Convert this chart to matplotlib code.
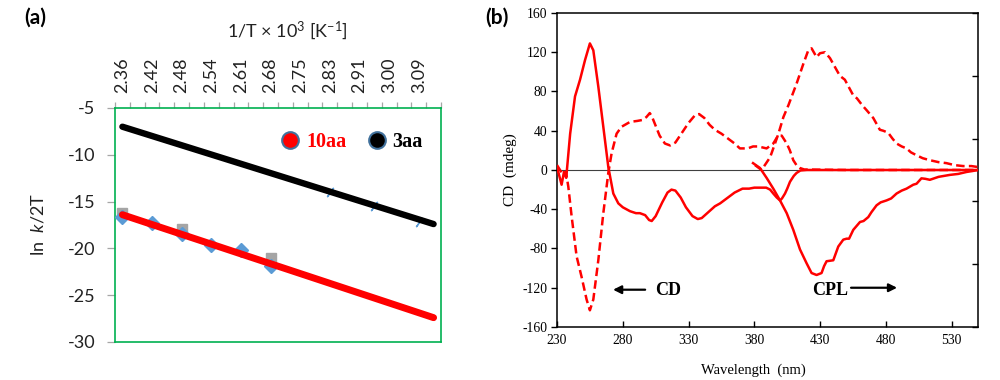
import matplotlib
matplotlib.use("Agg")
import matplotlib.pyplot as plt
from matplotlib.lines import Line2D
import numpy as np

plt.rcParams['axes.unicode_minus'] = False
plt.rcParams['mathtext.fontset'] = 'custom'
plt.rcParams['mathtext.rm'] = 'Lato'
plt.rcParams['mathtext.it'] = 'Lato:italic'

# ---------------- Panel (a) data ----------------
top_labels = ["2.36", "2.42", "2.48", "2.54", "2.61", "2.68",
              "2.75", "2.83", "2.91", "3.00", "3.09"]
n_categories = 22
diamond_cat = [0, 2, 4, 6, 8, 10]
diamond_val = [-16.6, -17.3, -18.5, -19.6, -20.2, -21.9]
square_cat = [0, 4, 10]
square_val = [-16.2, -17.9, -21.0]
slash_cat = [14, 17, 20]
slash_val = [-14.0, -15.5, -17.2]
fit_cat = [0, 21]
fit_3aa = [-7.0, -17.4]
fit_10aa = [-16.4, -27.4]

# ---------------- Panel (b) data ----------------
cd_solid_wl = [230, 233.5, 235.3, 237, 240, 243.7, 247.5, 251.3, 255, 257.6, 261.4,
               265.2, 269, 272.8, 276.6, 280, 285.5, 290, 293, 297, 300, 302, 305,
               310, 314, 317, 320, 324, 328, 333, 337, 340, 345, 350, 354, 360, 365,
               371, 376, 380, 385, 389, 392, 394.4, 397, 399.5, 401, 403.3, 405,
               407.1, 410, 412.1, 415, 420, 450, 500, 550]
cd_solid_val = [3, -15, -2, -8, 37, 75, 92, 112, 129, 122, 85,
                44, 3, -24, -34, -38, -42, -44, -44, -46, -51, -52, -47,
                -33, -23, -20, -21, -28, -38, -47, -50, -49, -43, -37, -34, -28, -23,
                -19, -19, -18, -18, -18, -20, -24, -28, -31, -29, -24, -19,
                -12, -6, -3, -0.5, 0, 0, 0, 0]

cd_dash_wl = [230, 232.3, 234.8, 236.8, 238.6, 241.1, 244.9, 248.7, 252.5, 255,
              257.6, 261.4, 265.2, 269, 271.5, 275.3, 279, 282.9, 285.5, 291, 295,
              298, 300.5, 302, 305, 308, 312, 316, 320, 325, 330, 335, 338, 342,
              346, 350, 355, 360, 365, 369, 375, 379, 383, 389.3, 394.4, 398,
              400.8, 404.6, 407, 409.6, 412, 414.7, 418, 450, 500, 550]
cd_dash_val = [5, 0, -5, -2, -17, -47, -88, -109, -132, -143,
               -132, -92, -44, -3, 17, 37, 44, 47, 49, 50, 51,
               54, 58, 55, 45, 35, 27, 25, 28, 38, 48, 56, 57, 53,
               46, 41, 37, 32, 27, 22, 22, 24, 24, 22, 27, 35,
               35, 27, 20, 10, 5, 2, 0.5, 0, 0, 0]

cpl_dash_wl = [380.5, 385.5, 392, 395.7, 398.3, 402.1, 405.9, 409, 412.1, 417.2,
               421, 423.5, 427.3, 429.9, 433.7, 437.5, 442.5, 445, 448.8, 452,
               455.2, 458, 462, 465.3, 470.4, 475.4, 478, 481.7, 485, 488.1, 492,
               495.7, 499, 503.3, 508, 513.4, 520, 526, 532, 538.7, 545, 550]
cpl_dash_val = [5, 0, 13, 27, 37, 54, 66, 77, 88, 108,
                122, 124, 115, 119, 120, 114, 102, 96, 92, 84,
                76, 73, 66, 61, 53, 41, 40, 38, 32, 27, 24,
                22, 18, 15, 12, 10, 8, 7, 5, 4, 4, 3]

cpl_solid_wl = [379, 384.3, 389.3, 394.4, 399.5, 404.6, 409.6, 414.7, 419.7, 423.5,
                427.3, 431.1, 433, 434.9, 440, 443.8, 447.6, 450.1, 452, 455.2,
                460.3, 463, 466.6, 469, 472.9, 476, 480.5, 484, 488.1, 492,
                495.7, 500.8, 503.3, 507, 510, 513.4, 520, 528.6, 535, 541.3, 546, 550]
cpl_solid_val = [7, 2, -8, -19, -31, -44, -61, -81, -95, -105,
                 -107, -105, -98, -93, -92, -78, -71, -70, -70, -61,
                 -53, -52, -48, -43, -36, -33, -31, -29, -24, -21,
                 -19, -15, -14, -8.5, -9, -10, -7, -5, -4, -2, -1, 0]

# ---------------- Figure ----------------
fig = plt.figure(figsize=(10, 3.8), dpi=100)

sans = 'Lato'
serif = 'Liberation Serif'
green = '#00B050'
gray_tick = '#A6A6A6'

# Panel (a)
axa = fig.add_axes([0.115, 0.1, 0.326, 0.6158])
axa.set_xlim(0, n_categories)
axa.set_ylim(-30, -5)

cx = lambda cats: np.asarray(cats) + 0.5

axa.plot(cx(square_cat), square_val, ls='none', marker='s', ms=7,
         color='#A5A5A5', zorder=2)
axa.plot(cx(diamond_cat), diamond_val, ls='none', marker='D', ms=7,
         color='#5B9BD5', zorder=3)
axa.plot(cx(slash_cat), slash_val, ls='none', marker=(2, 2, -35), ms=8,
         mec='#5B9BD5', mew=1.0, zorder=2)
axa.plot(cx(fit_cat), fit_3aa, color='black', lw=4.6,
         solid_capstyle='round', zorder=4)
axa.plot(cx(fit_cat), fit_10aa, color='#FF0000', lw=5.0,
         solid_capstyle='round', zorder=4)

for s in axa.spines.values():
    s.set_color(green)
    s.set_linewidth(1.2)

axa.xaxis.tick_top()
axa.set_xticks(cx(range(0, n_categories, 2)))
axa.set_xticklabels(top_labels, rotation=90, fontsize=13, family=sans,
                    color='#222222')
axa.set_xticks(np.arange(0, n_categories + 1), minor=True)
axa.tick_params(axis='x', which='major', length=0, pad=11)
axa.tick_params(axis='x', which='minor', length=4.5, color=gray_tick,
                width=0.9, top=True, bottom=False)
axa.set_yticks([-5, -10, -15, -20, -25, -30])
axa.set_yticklabels(['-5', '-10', '-15', '-20', '-25', '-30'], fontsize=13,
                    family=sans, color='#222222')
axa.tick_params(axis='y', length=5.8, color=gray_tick, width=0.9, pad=8.5)
axa.set_ylabel(r'ln  $k$/2T', fontsize=13, family=sans, color='#222222')
axa.yaxis.set_label_coords(-0.209, 0.5)

handles = [Line2D([], [], ls='none', marker='o', ms=12, mfc='#FF0000',
                  mec='#41719C', mew=1.5),
           Line2D([], [], ls='none', marker='o', ms=12, mfc='black',
                  mec='#41719C', mew=1.5)]
leg = axa.legend(handles, ['10aa', '3aa'], ncol=2, frameon=False,
                 loc='center left', bbox_to_anchor=(0.475, 0.855),
                 borderpad=0, handlelength=1.0, handletextpad=0.3,
                 columnspacing=1.0,
                 prop={'family': serif, 'weight': 'bold', 'size': 14.5})
for t, c in zip(leg.get_texts(), ['#FF0000', 'black']):
    t.set_color(c)

fig.text(0.287, 1 - 31 / 380, r'1/T × 10$^{3}$ [K$^{-1}$]', fontsize=13,
         family=sans, ha='center', va='center', color='#222222')
fig.text(0.024, 1 - 18 / 380, '(a)', fontsize=15, family=sans,
         weight='bold', ha='left', va='center')

# Panel (b)
axb = fig.add_axes([0.557, 0.1395, 0.421, 0.8263])
axb.set_xlim(230, 550)
axb.set_ylim(-160, 160)
axb.axhline(0, color='#404040', lw=0.8, zorder=1)
dash = (3.4, 1.7)
axb.plot(cd_solid_wl, cd_solid_val, color='#FF0000', lw=1.8, zorder=3)
axb.plot(cd_dash_wl, cd_dash_val, color='#FF0000', lw=1.8, dashes=dash, zorder=3)
axb.plot(cpl_solid_wl, cpl_solid_val, color='#FF0000', lw=1.8, zorder=3)
axb.plot(cpl_dash_wl, cpl_dash_val, color='#FF0000', lw=1.8, dashes=dash, zorder=3)

for s in axb.spines.values():
    s.set_color('black')
    s.set_linewidth(1.1)

axb.set_xticks(np.arange(230, 551, 50))
axb.set_yticks(np.arange(-160, 161, 40))
for lab in axb.get_xticklabels() + axb.get_yticklabels():
    lab.set_family(serif)
    lab.set_fontsize(9.8)
axb.tick_params(axis='x', direction='in', length=4, width=1, pad=5)
axb.tick_params(axis='y', direction='out', length=4, width=1, pad=3)

axr = axb.twinx()
axr.set_ylim(0, 5)
axr.set_yticks(np.arange(0, 6))
axr.set_yticklabels([])
axr.tick_params(axis='y', direction='in', length=4, width=1)
for s in axr.spines.values():
    s.set_visible(False)

axb.set_xlabel('Wavelength  (nm)', family=serif, fontsize=10.5)
axb.xaxis.set_label_coords(0.466, -0.115)
axb.set_ylabel('CD  (mdeg)', family=serif, fontsize=11)

axb.annotate('', xy=(272.6, -122), xytext=(297, -122),
             arrowprops=dict(arrowstyle='-|>', color='black', lw=1.6,
                             mutation_scale=12, shrinkA=0, shrinkB=0))
axb.text(304.5, -123, 'CD', family=serif, weight='bold', fontsize=13,
         ha='left', va='center')
axb.text(424.0, -123, 'CPL', family=serif, weight='bold', fontsize=13,
         ha='left', va='center')
axb.annotate('', xy=(488.5, -120), xytext=(453.5, -120),
             arrowprops=dict(arrowstyle='-|>', color='black', lw=1.6,
                             mutation_scale=12, shrinkA=0, shrinkB=0))

fig.text(0.485, 1 - 18 / 380, '(b)', fontsize=15, family=sans,
         weight='bold', ha='left', va='center')

fig.savefig('out.png', dpi=100)
